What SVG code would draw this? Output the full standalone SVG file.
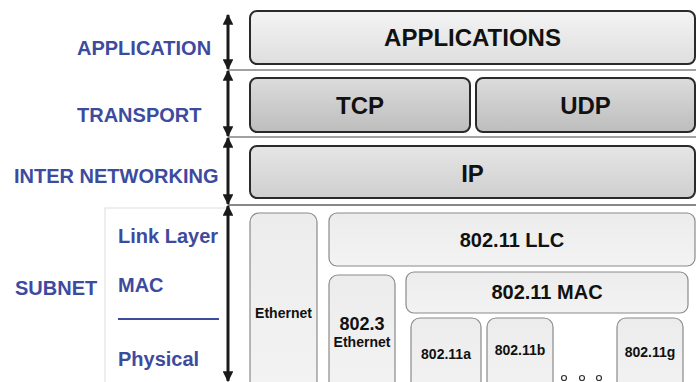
<svg xmlns="http://www.w3.org/2000/svg" width="696" height="382" viewBox="0 0 696 382">
<style>
.lbl{font-family:"Liberation Sans",Arial,sans-serif;font-weight:bold;font-size:20px;fill:#3d4b9e}
.t{font-family:"Liberation Sans",Arial,sans-serif;font-weight:bold;fill:#111;text-anchor:middle}
.top{stroke:#2a2a2a;stroke-width:2}
.sub{stroke:#8a8a8a;stroke-width:1.2;fill:url(#gSub)}
.sep{stroke:#444;stroke-width:1.2}
.arr{stroke:#1a1a1a;stroke-width:3;marker-start:url(#ah);marker-end:url(#ah)}
</style>
<defs>
<linearGradient id="gApp" x1="0" y1="0" x2="0" y2="1"><stop offset="0" stop-color="#f4f4f4"/><stop offset="1" stop-color="#dedede"/></linearGradient>
<linearGradient id="gTcp" x1="0" y1="0" x2="0" y2="1"><stop offset="0" stop-color="#dcdcdc"/><stop offset="1" stop-color="#bdbdbd"/></linearGradient>
<linearGradient id="gIp" x1="0" y1="0" x2="0" y2="1"><stop offset="0" stop-color="#e6e6e6"/><stop offset="1" stop-color="#cfcfcf"/></linearGradient>
<linearGradient id="gSub" x1="0" y1="0" x2="0" y2="1"><stop offset="0" stop-color="#ececec"/><stop offset="1" stop-color="#f3f3f3"/></linearGradient>
<marker id="ah" viewBox="0 0 10 10" refX="9" refY="5" markerWidth="3.6" markerHeight="3.6" orient="auto-start-reverse" markerUnits="strokeWidth"><path d="M0,0 L10,5 L0,10 z" fill="#1a1a1a"/></marker>
</defs>

<g id="labels">
<rect x="105" y="208" width="123" height="180" fill="#fff" stroke="#dddddd" stroke-width="1"/>
<text class="lbl" x="77" y="55">APPLICATION</text>
<text class="lbl" x="77" y="122">TRANSPORT</text>
<text class="lbl" x="14" y="183">INTER NETWORKING</text>
<text class="lbl" x="15" y="295">SUBNET</text>
<text class="lbl" x="118" y="243">Link Layer</text>
<text class="lbl" x="118" y="292">MAC</text>
<line x1="118" y1="319" x2="219" y2="319" stroke="#3d4b9e" stroke-width="2"/>
<text class="lbl" x="118" y="366">Physical</text>
</g>

<g id="connectors">
<line class="sep" x1="228" y1="70" x2="696" y2="70"/>
<line class="sep" x1="228" y1="137" x2="696" y2="137"/>
<line x1="228" y1="205" x2="696" y2="205" stroke="#888" stroke-width="2.2"/>
<line class="arr" x1="228" y1="15" x2="228" y2="69"/>
<line class="arr" x1="228" y1="71" x2="228" y2="136"/>
<line class="arr" x1="228" y1="138" x2="228" y2="204"/>
<line class="arr" x1="228" y1="206" x2="228" y2="381"/>
</g>

<g id="applications"><rect class="top" x="250" y="11" width="445" height="53" rx="7" fill="url(#gApp)"/><text class="t" x="472.5" y="46" font-size="24">APPLICATIONS</text></g>
<g id="tcp"><rect class="top" x="250" y="78" width="220" height="54" rx="7" fill="url(#gTcp)"/><text class="t" x="360" y="114" font-size="24">TCP</text></g>
<g id="udp"><rect class="top" x="476" y="78" width="219" height="54" rx="7" fill="url(#gTcp)"/><text class="t" x="585.5" y="114" font-size="24">UDP</text></g>
<g id="ip"><rect class="top" x="250" y="146" width="445" height="52" rx="7" fill="url(#gIp)"/><text class="t" x="472.5" y="182" font-size="24">IP</text></g>

<g id="ethernet"><rect class="sub" x="250" y="213" width="67" height="180" rx="9"/><text class="t" x="283.5" y="318" font-size="14">Ethernet</text></g>
<g id="llc"><rect class="sub" x="329" y="213" width="366" height="53" rx="8"/><text class="t" x="512" y="247" font-size="20">802.11 LLC</text></g>
<g id="e8023"><rect class="sub" x="329" y="275" width="66" height="120" rx="9"/><text class="t" x="362" y="330" font-size="18">802.3</text><text class="t" x="362" y="347" font-size="14">Ethernet</text></g>
<g id="mac"><rect class="sub" x="406" y="272" width="282" height="41" rx="8"/><text class="t" x="547" y="299" font-size="20">802.11 MAC</text></g>
<g id="a"><rect class="sub" x="411" y="318" width="70" height="80" rx="9"/><text class="t" x="446" y="359" font-size="14">802.11a</text></g>
<g id="b"><rect class="sub" x="487" y="318" width="66" height="80" rx="9"/><text class="t" x="520" y="355" font-size="14">802.11b</text></g>
<g id="g"><rect class="sub" x="617" y="318" width="66" height="80" rx="9"/><text class="t" x="650" y="357" font-size="14">802.11g</text></g>
<g id="dots" fill="none" stroke="#333" stroke-width="1.2"><circle cx="564" cy="378" r="2.5"/><circle cx="582" cy="378" r="2.5"/><circle cx="599" cy="378" r="2.5"/></g>
</svg>
